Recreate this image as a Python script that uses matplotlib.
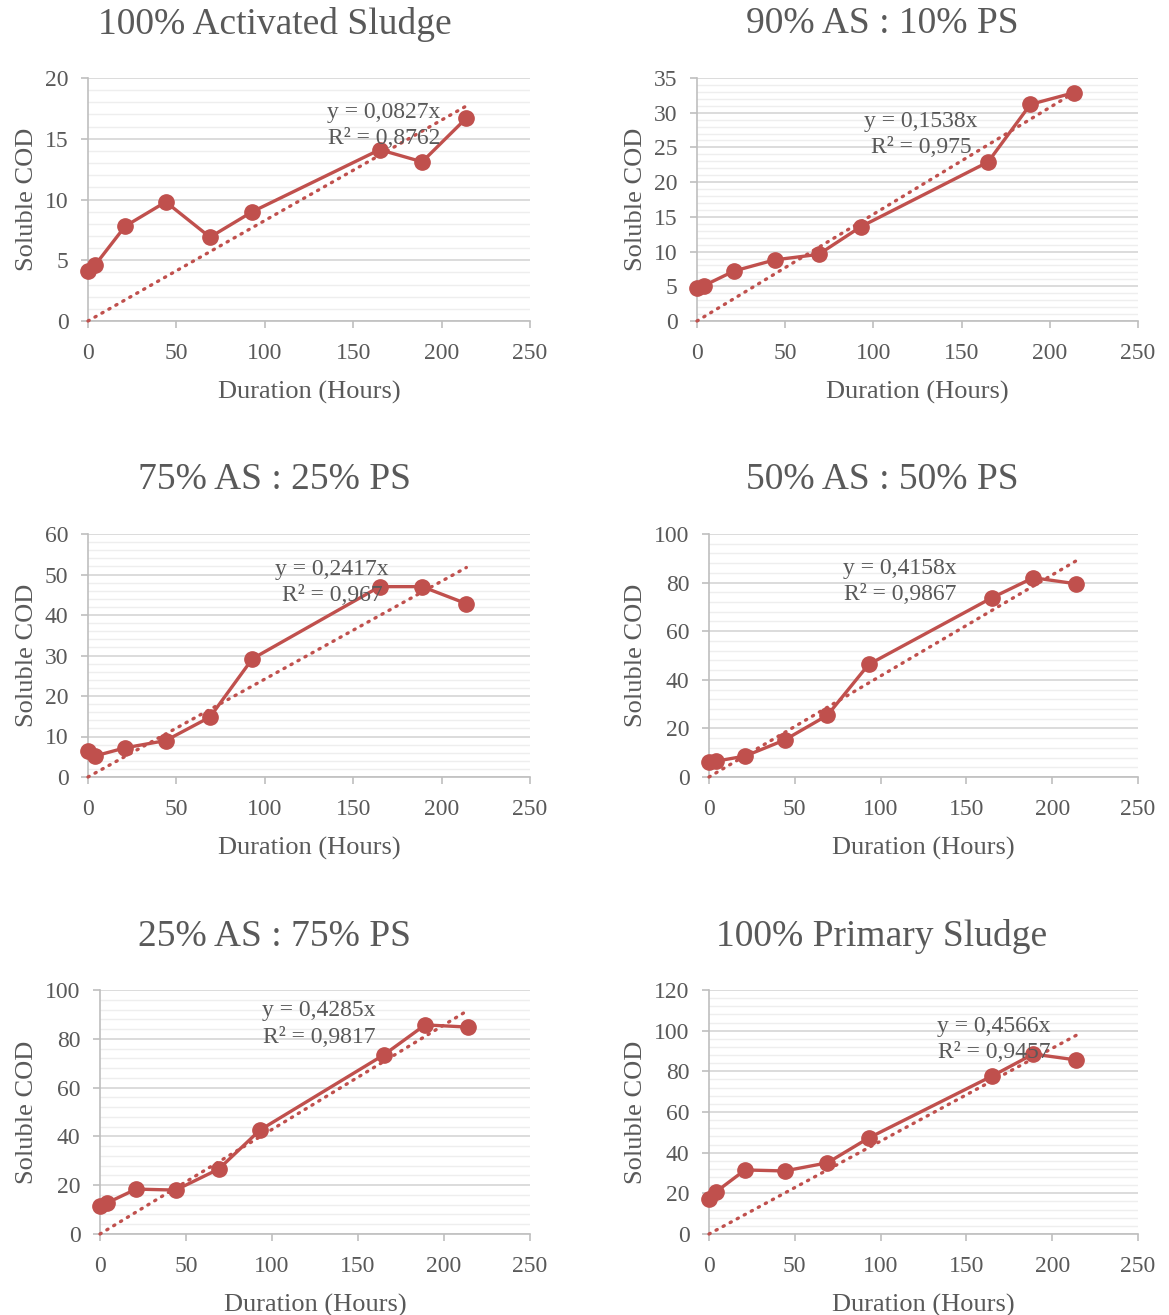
import matplotlib

matplotlib.use("Agg")
import matplotlib.pyplot as plt
import numpy as np
from matplotlib.ticker import MultipleLocator

plt.rcParams["font.family"] = ["Liberation Serif", "DejaVu Serif"]

# Sampling times (hours), same for every mixture
hours = [0, 4, 21, 44, 69, 93, 165, 189, 214]

titles = [
    "100% Activated Sludge",
    "90% AS : 10% PS",
    "75% AS : 25% PS",
    "50% AS : 50% PS",
    "25% AS : 75% PS",
    "100% Primary Sludge",
]

cod_100as = [4.1, 4.6, 7.8, 9.8, 6.9, 9.0, 14.1, 13.1, 16.7]
cod_90as = [4.8, 5.1, 7.2, 8.8, 9.6, 13.6, 22.9, 31.2, 32.9]
cod_75as = [6.3, 5.2, 7.2, 9.0, 14.8, 29.2, 47.0, 47.0, 42.8]
cod_50as = [6.1, 6.5, 8.6, 15.2, 25.4, 46.3, 73.8, 82.0, 79.5]
cod_25as = [11.5, 12.7, 18.4, 18.0, 26.6, 42.6, 73.4, 85.7, 84.8]
cod_100ps = [17.2, 20.7, 31.5, 31.0, 35.0, 47.2, 77.7, 88.5, 85.6]
series = [cod_100as, cod_90as, cod_75as, cod_50as, cod_25as, cod_100ps]

slopes = [0.0827, 0.1538, 0.2417, 0.4158, 0.4285, 0.4566]
r2_labels = ["0,8762", "0,975", "0,967", "0,9867", "0,9817", "0,9457"]
slope_labels = ["0,0827", "0,1538", "0,2417", "0,4158", "0,4285", "0,4566"]

y_max = [20, 35, 60, 100, 100, 120]
y_major = [5, 5, 10, 20, 20, 20]

RED = "#C0504D"
GRAY_TXT = "#595959"
W, H = 1169, 1315

# axes boxes in pixels: left, right, top, bottom
boxes = [
    (88, 530, 78, 321),
    (697, 1138, 78, 321),
    (88, 530, 534, 777),
    (709, 1138, 534, 777),
    (100, 530, 990, 1234),
    (709, 1138, 990, 1234),
]
title_pos = [(275, 24), (882, 24), (275, 480), (882, 480), (275, 937), (882, 937)]
eq_pos = [(0.67, 0.856), (0.508, 0.823), (0.552, 0.852),
          (0.445, 0.856), (0.509, 0.914), (0.664, 0.852)]

fig = plt.figure(figsize=(W / 100, H / 100), dpi=100)

for i in range(6):
    l, r, t, b = boxes[i]
    ax = fig.add_axes([l / W, 1 - b / H, (r - l) / W, (b - t) / H])
    x = np.array(hours)
    y = series[i]

    # linear trend through origin
    xt = np.array([0, hours[-1]])
    ax.plot(xt, slopes[i] * xt, color=RED, lw=2.4, ls=(0, (0.4, 2.0)),
            dash_capstyle="round", zorder=3, clip_on=False)
    ax.plot(x, y, color=RED, lw=2.4, marker="o", ms=11, zorder=4,
            clip_on=False)

    ax.set_xlim(0, 250)
    ax.set_ylim(0, y_max[i])
    ax.xaxis.set_major_locator(MultipleLocator(50))
    ax.yaxis.set_major_locator(MultipleLocator(y_major[i]))
    ax.yaxis.set_minor_locator(MultipleLocator(y_major[i] / 5))
    ax.grid(which="major", axis="y", color="#d9d9d9", lw=1.3)
    ax.grid(which="minor", axis="y", color="#eeeeee", lw=1.0)
    ax.set_axisbelow(True)
    for s in ["top", "right"]:
        ax.spines[s].set_visible(False)
    for s in ["left", "bottom"]:
        ax.spines[s].set_color("#bfbfbf")
        ax.spines[s].set_linewidth(1.2)
    ax.tick_params(which="major", colors="#bfbfbf", labelcolor=GRAY_TXT,
                   labelsize=17, length=5, width=1.2)
    ax.tick_params(which="minor", left=False)
    ax.tick_params(axis="y", pad=9)
    ax.tick_params(axis="x", pad=11)

    ax.set_ylabel("Soluble COD", fontsize=19, color=GRAY_TXT, labelpad=5)
    ax.set_xlabel("Duration (Hours)", fontsize=19, color=GRAY_TXT, labelpad=12)

    ex, ey = eq_pos[i]
    ax.text(ex, ey, f"y = {slope_labels[i]}x", transform=ax.transAxes,
            ha="center", va="center", fontsize=17, color=GRAY_TXT, zorder=5)
    ax.text(ex, ey - 0.107, f"R² = {r2_labels[i]}", transform=ax.transAxes,
            ha="center", va="center", fontsize=17, color=GRAY_TXT, zorder=5)

    tx, ty = title_pos[i]
    fig.text(tx / W, 1 - ty / H, titles[i], ha="center", va="center",
             fontsize=27, color=GRAY_TXT)

fig.savefig("out.png", dpi=100)
